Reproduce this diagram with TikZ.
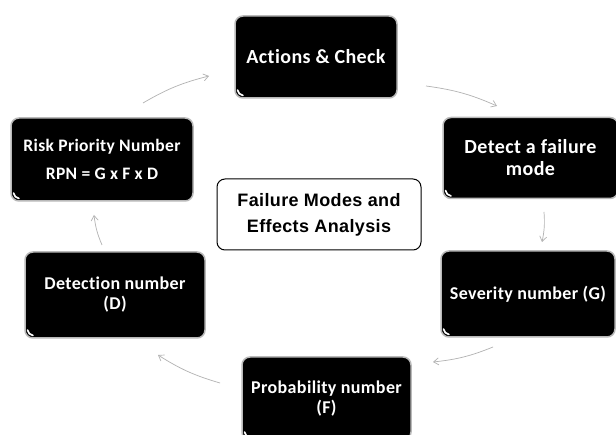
\documentclass[tikz,border=0pt]{standalone}
\usepackage{fontspec}
\setmainfont{Carlito}[Ligatures=NoCommon, LetterSpace=2]
\newfontfamily\arialfont{Liberation Sans}[LetterSpace=2]
\usetikzlibrary{arrows.meta}
\tikzset{
  blackbox/.style={draw=gray!55, line width=1.5pt, fill=black, rounded corners=8pt,
    text=white, font=\bfseries\fontsize{18}{20}\selectfont, align=center, inner sep=0pt,
    path picture={\draw[white, line width=1.6pt, line cap=round]
      ([shift={(2.5pt,8pt)}]path picture bounding box.south west)
      to[bend right=35] ([shift={(8pt,2.5pt)}]path picture bounding box.south west);}},
  centerbox/.style={draw=black, line width=1pt, fill=white, rounded corners=8pt,
    font=\arialfont\bfseries\fontsize{18}{26}\selectfont, align=center, inner sep=0pt},
  arr/.style={draw=gray!60, line width=0.7pt, -{Straight Barb[length=5pt,width=7pt]}}
}
\begin{document}
\begin{tikzpicture}[x=1pt,y=-1pt]
\useasboundingbox (0,0) rectangle (616,435);
\clip (0,0) rectangle (616,435);
\fill[white] (0,0) rectangle (616,435);
\node[blackbox, minimum width=162pt, minimum height=82pt, font=\bfseries\fontsize{20}{22}\selectfont] (act) at (316,57) {Actions \& Check};
\node[blackbox, minimum width=182pt, minimum height=83pt, font=\bfseries\fontsize{17.5}{28}\selectfont] (risk) at (102,159.5) {Risk Priority Number\\RPN = G x F x D};
\node[blackbox, minimum width=175pt, minimum height=81pt, font=\bfseries\fontsize{20}{22}\selectfont] (detect) at (530.5,158) {Detect a failure\\mode};
\node[centerbox, minimum width=204pt, minimum height=71pt] (fmea) at (319,214.5) {Failure Modes and\\Effects Analysis};
\node[blackbox, minimum width=174pt, minimum height=86pt] (sev) at (528,294) {Severity number (G)};
\node[blackbox, minimum width=180pt, minimum height=86pt, font=\bfseries\fontsize{18}{20}\selectfont] (det) at (115,295) {Detection number\\(D)};
\node[blackbox, minimum width=169pt, minimum height=83pt, font=\bfseries\fontsize{18}{20}\selectfont] (prob) at (326.5,398.5) {Probability number\\(F)};
\coordinate (a1s) at (143,103); \coordinate (a1e) at (209,76);
\coordinate (a2s) at (426,86);  \coordinate (a2e) at (497,106);
\coordinate (a3s) at (544,212); \coordinate (a3e) at (542,242);
\coordinate (a4s) at (493,347); \coordinate (a4e) at (433,362);
\coordinate (a5s) at (220,383); \coordinate (a5e) at (158,355);
\coordinate (a6s) at (102,245); \coordinate (a6e) at (94,215);
\draw[arr] (a1s) to[bend left=8] (a1e);
\draw[arr] (a2s) to[bend left=8] (a2e);
\draw[arr] (a3s) to[bend left=8] (a3e);
\draw[arr] (a4s) to[bend left=8] (a4e);
\draw[arr] (a5s) to[bend left=8] (a5e);
\draw[arr] (a6s) to[bend left=8] (a6e);
\end{tikzpicture}
\end{document}
